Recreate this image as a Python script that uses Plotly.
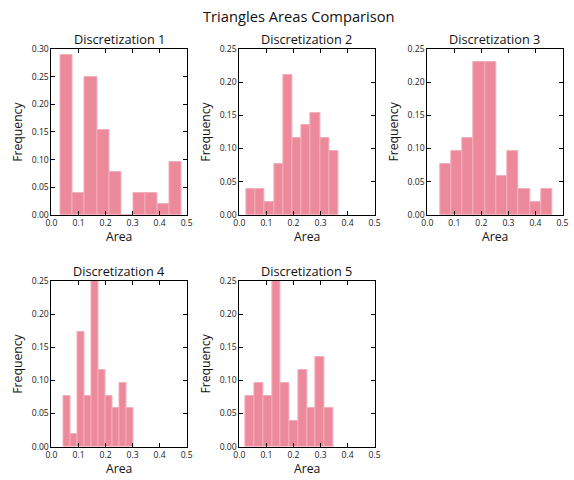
import plotly.graph_objects as go

W, H = 574, 480

titles = ["Discretization 1", "Discretization 2", "Discretization 3",
          "Discretization 4", "Discretization 5"]

# bin ranges (first edge, last edge), 10 bins each
bin_start = [0.034, 0.0256, 0.0476, 0.045, 0.0232]
bin_end = [0.482, 0.366, 0.462, 0.304, 0.3476]

freq_1 = [0.2885, 0.0385, 0.2500, 0.1538, 0.0769, 0.0, 0.0385, 0.0385, 0.0192, 0.0962]
freq_2 = [0.0385, 0.0385, 0.0192, 0.0769, 0.2115, 0.1154, 0.1346, 0.1538, 0.1154, 0.0962]
freq_3 = [0.0769, 0.0962, 0.1154, 0.2308, 0.2308, 0.0577, 0.0962, 0.0385, 0.0192, 0.0385]
freq_4 = [0.0769, 0.0192, 0.1731, 0.0769, 0.2500, 0.1154, 0.0769, 0.0577, 0.0962, 0.0577]
freq_5 = [0.0769, 0.0962, 0.0769, 0.2500, 0.0962, 0.0385, 0.1154, 0.0577, 0.1346, 0.0577]
freqs = [freq_1, freq_2, freq_3, freq_4, freq_5]

y_max = [0.30, 0.25, 0.25, 0.25, 0.25]
x_ticks = [0.0, 0.1, 0.2, 0.3, 0.4, 0.5]
x_ticklabels = ["0.0", "0.1", "0.2", "0.3", "0.4", "0.5"]

# target positions in the photographed picture (pixels): (left, right, top, bottom)
boxes = [(51, 187.7, 48.3, 215), (241, 377.7, 48.3, 215), (431, 567.7, 48.3, 215),
         (51, 187.7, 281.7, 448.3), (241, 377.7, 281.7, 448.3)]
title_y = [38, 38, 38, 271.7, 271.7]
area_y = [237.4, 237.4, 237.4, 470.2, 470.2]


# the photographed picture is offset/scaled slightly relative to the page
def px(d):
    return (d - 5) / 0.99


def py(d):
    return (d - 5) / 0.981


FONT = "Open Sans"
BAR = "#EC8A9C"
EDGE = "#F3AEBB"

fig = go.Figure()
annotations = []
for i in range(5):
    n = len(freqs[i])
    w = (bin_end[i] - bin_start[i]) / n
    centers = [bin_start[i] + w * (k + 0.5) for k in range(n)]
    ax = "" if i == 0 else str(i + 1)
    fig.add_trace(go.Bar(x=centers, y=freqs[i], width=[w] * n,
                         marker=dict(color=BAR, line=dict(color=EDGE, width=1)),
                         xaxis="x" + ax, yaxis="y" + ax, showlegend=False,
                         hoverinfo="x+y"))
    l, r, t, b = boxes[i]
    l, r, t, b = px(l), px(r), py(t), py(b)
    dom_x = [l / W, r / W]
    dom_y = [1 - b / H, 1 - t / H]
    yt = [round(0.05 * k, 2) for k in range(int(round(y_max[i] / 0.05)) + 1)]
    axis_common = dict(showline=True, linecolor="black", linewidth=1, mirror="ticks",
                       ticks="inside", ticklen=4, tickcolor="black", showgrid=False,
                       zeroline=False, tickfont=dict(family=FONT, size=8.6, color="#222"))
    fig.layout["xaxis" + ax] = dict(domain=dom_x, range=[0, 0.5], tickvals=x_ticks,
                                    ticktext=x_ticklabels, anchor="y" + ax, **axis_common)
    fig.layout["yaxis" + ax] = dict(domain=dom_y, range=[0, y_max[i]], tickvals=yt,
                                    ticktext=["%.2f" % v for v in yt], anchor="x" + ax,
                                    **axis_common)
    cx = (l + r) / 2
    annotations.append(dict(text=titles[i], x=cx / W, y=1 - py(title_y[i]) / H,
                            xref="paper", yref="paper", showarrow=False, xanchor="center",
                            yanchor="middle", font=dict(family=FONT, size=12.7, color="#111")))
    annotations.append(dict(text="Frequency", x=px(boxes[i][0] - 34) / W,
                            y=1 - ((t + b) / 2) / H,
                            xref="paper", yref="paper", showarrow=False, textangle=-90,
                            xanchor="center", yanchor="middle",
                            font=dict(family=FONT, size=12.2, color="#111")))
    annotations.append(dict(text="Area", x=cx / W, y=1 - py(area_y[i]) / H, xref="paper",
                            yref="paper", showarrow=False, xanchor="center",
                            yanchor="middle", font=dict(family=FONT, size=12.2, color="#111")))

annotations.append(dict(text="Triangles Areas Comparison", x=px(301.7) / W,
                        y=1 - py(15.5) / H, xref="paper", yref="paper", showarrow=False,
                        xanchor="center", yanchor="middle",
                        font=dict(family=FONT, size=14.7, color="#111")))

fig.update_layout(width=W, height=H, margin=dict(l=0, r=0, t=0, b=0),
                  paper_bgcolor="white", plot_bgcolor="white", bargap=0,
                  annotations=annotations)

fig.write_html("out.html", config={"displayModeBar": False},
               post_script="document.body.style.margin='0';document.body.style.padding='0';")
